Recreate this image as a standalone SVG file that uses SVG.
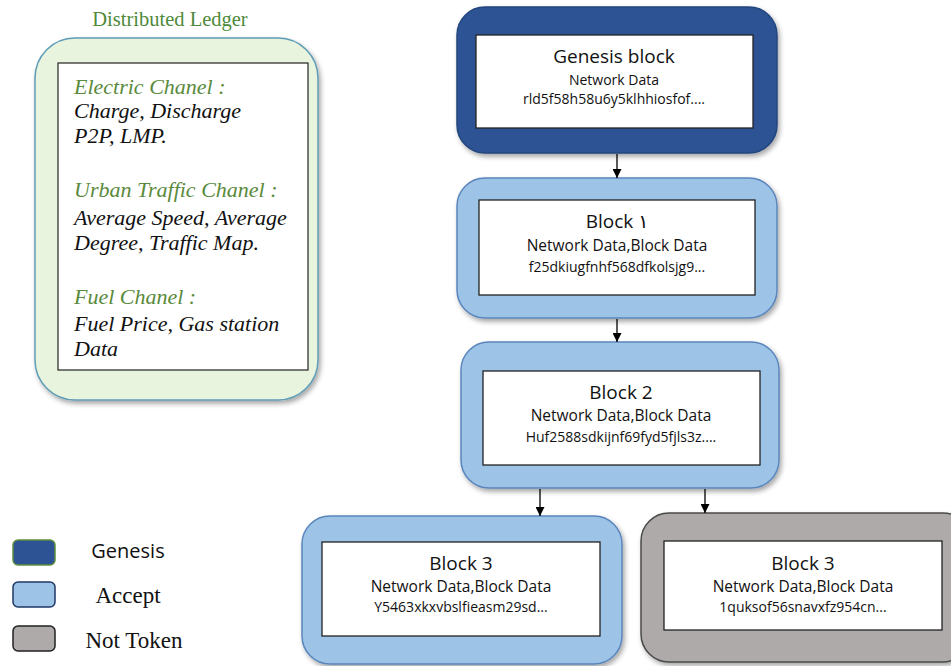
<svg xmlns="http://www.w3.org/2000/svg" width="951" height="666" viewBox="0 0 951 666">
<defs>
<filter id="sh" x="-10%" y="-10%" width="130%" height="130%"><feDropShadow dx="2" dy="3" stdDeviation="2.5" flood-color="#000" flood-opacity="0.35"/></filter>
<marker id="ah" viewBox="0 0 10 10" refX="10" refY="5" markerWidth="9" markerHeight="9" markerUnits="userSpaceOnUse" orient="auto"><path d="M0,0 L10,5 L0,10 z" fill="#000"/></marker>
</defs>
<style>
.inner{fill:#fff;stroke:#222;stroke-width:1.3}
.gen{fill:#2D5394;stroke:#24467F;stroke-width:1.5}
.acc{fill:#9DC3E6;stroke:#5A86BC;stroke-width:1.5}
.nt{fill:#AEAAAA;stroke:#4A4A4A;stroke-width:1.5}
.t1{font-family:"Open Sans","Noto Sans","DejaVu Sans",sans-serif;font-size:19px;fill:#111;text-anchor:middle}
.t2{font-family:"Open Sans","Noto Sans","DejaVu Sans",sans-serif;font-size:14px;fill:#111;text-anchor:middle}
.t3{font-family:"Open Sans","Noto Sans","DejaVu Sans",sans-serif;font-size:15.5px;fill:#111;text-anchor:middle}
.led{font-family:"Liberation Serif","DejaVu Serif",serif;font-style:italic;font-size:22px;fill:#111}
.ledg{fill:#5A8A3C}
.conn{stroke:#000;stroke-width:1.3;fill:none}
.leg{font-family:"Liberation Serif",serif;font-size:23px;fill:#111}
</style>

<g id="ledger">
<text x="170" y="26" font-family="Liberation Serif,serif" font-size="20.5" fill="#4E8A3A" text-anchor="middle">Distributed Ledger</text>
<rect x="35" y="38" width="283" height="362" rx="40" fill="#E9F4DF" stroke="#5E9CB5" stroke-width="1.5" filter="url(#sh)"/>
<rect x="58" y="63" width="250" height="307" fill="#fff" stroke="#222" stroke-width="1.2"/>
<text class="led ledg" x="74" y="94">Electric Chanel :</text>
<text class="led" x="74" y="118">Charge, Discharge</text>
<text class="led" x="74" y="143">P2P, LMP.</text>
<text class="led ledg" x="74" y="197">Urban Traffic Chanel :</text>
<text class="led" x="74" y="225">Average Speed, Average</text>
<text class="led" x="74" y="250">Degree, Traffic Map.</text>
<text class="led ledg" x="74" y="304">Fuel Chanel :</text>
<text class="led" x="74" y="331">Fuel Price, Gas station</text>
<text class="led" x="74" y="356">Data</text>
</g>

<g id="genesis">
<rect class="gen" x="457" y="7" width="320" height="146" rx="28" filter="url(#sh)"/>
<rect class="inner" x="476" y="35" width="277" height="93"/>
<text class="t1" x="614" y="63">Genesis block</text>
<text class="t2" x="614" y="85">Network Data</text>
<text class="t2" x="614" y="104">rld5f58h58u6y5klhhiosfof....</text>
</g>

<g id="block1">
<rect class="acc" x="457" y="178" width="320" height="140" rx="28" filter="url(#sh)"/>
<rect class="inner" x="479" y="200" width="276" height="95"/>
<text class="t1" x="617" y="228">Block ۱</text>
<text class="t3" x="617" y="251">Network Data,Block Data</text>
<text class="t2" x="617" y="272">f25dkiugfnhf568dfkolsjg9...</text>
</g>

<g id="block2">
<rect class="acc" x="461" y="342" width="318" height="146" rx="28" filter="url(#sh)"/>
<rect class="inner" x="483" y="371" width="277" height="94"/>
<text class="t1" x="621" y="399">Block 2</text>
<text class="t3" x="621" y="421">Network Data,Block Data</text>
<text class="t2" x="621" y="442">Huf2588sdkijnf69fyd5fjls3z....</text>
</g>

<g id="block3a">
<rect class="acc" x="302" y="516" width="320" height="148" rx="28" filter="url(#sh)"/>
<rect class="inner" x="322" y="542" width="278" height="94"/>
<text class="t1" x="461" y="570">Block 3</text>
<text class="t3" x="461" y="592">Network Data,Block Data</text>
<text class="t2" x="461" y="612">Y5463xkxvbslfieasm29sd...</text>
</g>

<g id="block3b">
<rect class="nt" x="641" y="513" width="330" height="149" rx="28" filter="url(#sh)"/>
<rect class="inner" x="664" y="541" width="278" height="89"/>
<text class="t1" x="803" y="570">Block 3</text>
<text class="t3" x="803" y="592">Network Data,Block Data</text>
<text class="t2" x="803" y="612">1quksof56snavxfz954cn...</text>
</g>

<g id="connectors">
<line class="conn" x1="617" y1="154" x2="617" y2="178" marker-end="url(#ah)"/>
<line class="conn" x1="617" y1="319" x2="617" y2="342" marker-end="url(#ah)"/>
<line class="conn" x1="540" y1="489" x2="540" y2="516" marker-end="url(#ah)"/>
<line class="conn" x1="705" y1="489" x2="705" y2="513" marker-end="url(#ah)"/>
</g>

<g id="legend">
<rect x="13" y="540" width="42" height="25" rx="5" fill="#2D5394" stroke="#5E8F3E" stroke-width="1.5"/>
<rect x="13" y="582" width="42" height="25" rx="5" fill="#9DC3E6" stroke="#1F3864" stroke-width="1.5"/>
<rect x="13" y="626" width="42" height="25" rx="5" fill="#AEAAAA" stroke="#222" stroke-width="1.5"/>
<text x="128" y="558" font-family="Open Sans,Noto Sans,sans-serif" font-size="20" fill="#111" text-anchor="middle">Genesis</text>
<text class="leg" x="128" y="603" text-anchor="middle">Accept</text>
<text class="leg" x="134" y="648" text-anchor="middle">Not Token</text>
</g>
</svg>
